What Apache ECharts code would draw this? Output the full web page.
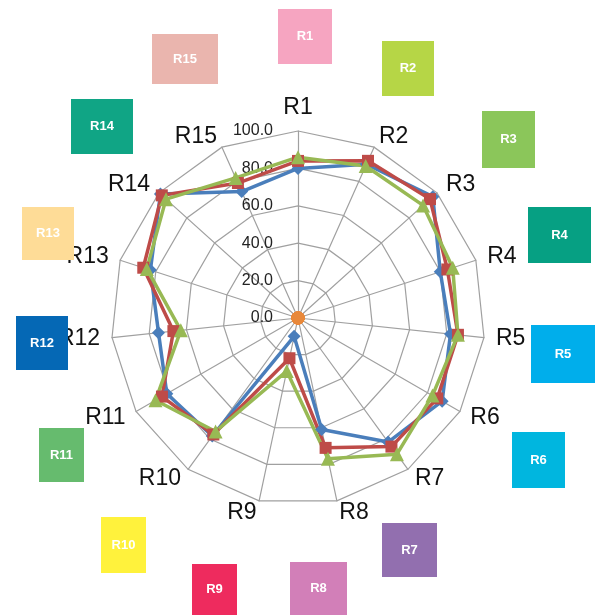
<!DOCTYPE html>
<html>
<head>
<meta charset="utf-8">
<script src="https://cdn.jsdelivr.net/npm/echarts@6/dist/echarts.min.js"></script>
<style>
  html, body { margin: 0; padding: 0; background: #fff; }
  #chart { width: 600px; height: 615px; }
</style>
</head>
<body>
<div id="chart"></div>
<script>
// 维度名称 R1..R15（顺时针）
var categories = ['R1','R2','R3','R4','R5','R6','R7','R8','R9','R10','R11','R12','R13','R14','R15'];
// 三组数据
var seriesBlue  = [80, 90, 97, 80, 82, 89, 82, 61, 10, 78, 81, 75, 83, 99, 74];
var seriesRed   = [84, 92, 95, 84, 86, 86, 85, 71, 22, 77, 84, 67, 87, 98, 79];
var seriesGreen = [86, 89, 90, 87, 86, 83, 90, 77, 29, 75, 88, 63, 85, 95, 82];
var seriesOrange = [0, 0, 0, 0, 0, 0, 0, 0, 0, 0, 0, 0, 0, 0, 0];
var maxValue = 100;
// 外圈色块的标签和颜色
var boxLabels = ['R1','R2','R3','R4','R5','R6','R7','R8','R9','R10','R11','R12','R13','R14','R15'];
var boxColors = ['#F6A5C1','#B6D646','#8BC65A','#06A083','#00AEEB','#00B6DF','#926FAF','#D27FB8',
                 '#EE2B5E','#FFF23C','#66BB6E','#0568B5','#FEDC97','#10A585','#EAB5AE'];

// echarts 雷达默认逆时针排列，这里把顺序翻过来变成顺时针
function clockwise(arr) {
  return [arr[0]].concat(arr.slice(1).reverse());
}

var labelFont = '"Liberation Sans", Arial, sans-serif';

var indicators = clockwise(categories).map(function (name, i) {
  var ind = { name: name, max: maxValue, min: 0 };
  if (i === 0) {
    // 只在 R1 轴上显示刻度
    ind.axisLabel = {
      show: true,
      color: '#222',
      fontSize: 16,
      fontFamily: labelFont,
      margin: 25,
      formatter: function (v) { return Number(v).toFixed(1); }
    };
  }
  return ind;
});

// 色块位置（像素）
var boxRects = [
  [278, 9, 54, 55], [382, 41, 52, 55], [482, 111, 53, 57], [528, 207, 63, 56],
  [531, 325, 64, 58], [512, 432, 53, 56], [382, 523, 55, 54], [290, 562, 57, 53],
  [192, 564, 45, 51], [101, 517, 45, 56], [39, 428, 45, 54], [16, 316, 52, 54],
  [22, 207, 52, 53], [71, 99, 62, 55], [152, 34, 66, 50]
];

var graphics = [];
boxRects.forEach(function (r, i) {
  graphics.push({
    type: 'rect',
    shape: { x: r[0], y: r[1], width: r[2], height: r[3] },
    style: { fill: boxColors[i] },
    z: 1
  });
  graphics.push({
    type: 'text',
    x: r[0] + r[2] / 2,
    y: r[1] + r[3] / 2,
    z: 2,
    style: {
      text: boxLabels[i],
      fill: '#fff',
      font: 'bold 13px ' + labelFont,
      align: 'center',
      verticalAlign: 'middle',
      textAlign: 'center',
      textVerticalAlign: 'middle',
      shadowColor: 'rgba(0,0,0,0.45)',
      shadowBlur: 2,
      shadowOffsetX: 1,
      shadowOffsetY: 1
    }
  });
});

function makeSeries(name, data, color, symbol, size) {
  return {
    name: name,
    type: 'radar',
    symbol: symbol,
    symbolSize: size,
    lineStyle: { color: color, width: 3.5 },
    itemStyle: { color: color },
    data: [{ value: clockwise(data), name: name }]
  };
}

var chart = echarts.init(document.getElementById('chart'));
chart.setOption({
  animation: false,
  backgroundColor: '#fff',
  graphic: graphics,
  radar: {
    center: [298, 318],
    radius: 187,
    startAngle: 90,
    shape: 'polygon',
    splitNumber: 5,
    indicator: indicators,
    axisName: {
      color: '#111',
      fontSize: 23,
      fontFamily: labelFont
    },
    nameGap: 12,
    axisLine: { lineStyle: { color: '#a0a0a0', width: 1.2 } },
    splitLine: { lineStyle: { color: '#a0a0a0', width: 1.2 } },
    splitArea: { show: false },
    axisTick: { show: false },
    axisLabel: { show: false }
  },
  series: [
    makeSeries('S1', seriesBlue, '#4A7EBB', 'diamond', 13),
    makeSeries('S2', seriesRed, '#BE4B48', 'rect', 12),
    makeSeries('S3', seriesGreen, '#98B954', 'triangle', 14),
    makeSeries('S4', seriesOrange, '#E8883A', 'circle', 13)
  ]
});
</script>
</body>
</html>
